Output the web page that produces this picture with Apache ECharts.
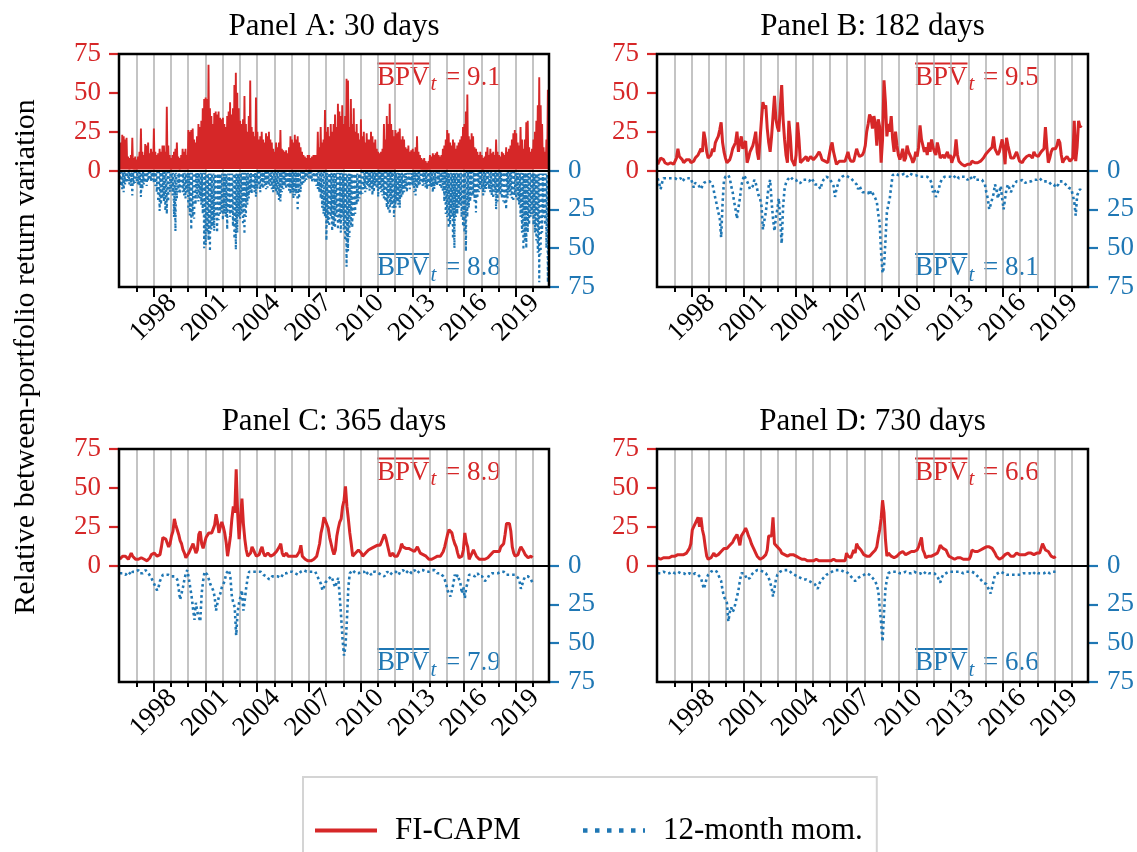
<!DOCTYPE html>
<html><head><meta charset="utf-8">
<script src="https://cdn.jsdelivr.net/npm/echarts@6/dist/echarts.min.js"></script>
<style>html,body{margin:0;padding:0;background:#fff}#c{width:1137px;height:852px}</style>
</head><body><div id="c"></div>
<script>
// ---------------- data ----------------
const START_YEAR = 1996;                 // first month of every series = Jan 1996
const PANEL_TITLES = ['Panel A: 30 days', 'Panel B: 182 days', 'Panel C: 365 days', 'Panel D: 730 days'];
const MEAN_FI  = ['9.1', '9.5', '8.9', '6.6'];
const MEAN_MOM = ['8.8', '8.1', '7.9', '6.6'];
const YEAR_TICKS  = [1997,1998,1999,2000,2001,2002,2003,2004,2005,2006,2007,2008,2009,2010,2011,2012,2013,2014,2015,2016,2017,2018,2019,2020];
const YEAR_LABELS = [1998, 2001, 2004, 2007, 2010, 2013, 2016, 2019];
const LEFT_TICKS  = [0, 25, 50, 75];
const RIGHT_TICKS = [0, -25, -50, -75];
const SERIES_NAMES = ['FI-CAPM', '12-month mom.'];

// Panel A (30 days): monthly peak values and yearly floor values (daily series is very spiky)
const fiA_peak = [
 [6,18,23,22,20,21,9,8,10,21,8,9],
 [7,9,12,27,12,10,17,16,18,11,14,12],
 [27,12,10,11,14,12,16,16,12,41,16,10],
 [8,10,12,14,18,9,8,10,14,12,14,10],
 [26,25,26,27,20,18,22,30,28,32,40,46],
 [47,46,68,40,35,30,37,38,36,38,34,33],
 [34,30,28,35,38,44,36,40,55,63,50,40],
 [32,30,33,48,30,25,35,58,28,25,22,47],
 [25,20,22,25,20,18,24,22,25,20,18,14],
 [12,18,15,18,26,14,13,12,13,11,15,22],
 [20,18,23,20,22,18,15,12,10,9,8,10],
 [10,8,9,10,10,10,25,15,28,18,20,39],
 [25,28,22,30,25,30,36,28,43,38,35,42],
 [30,35,59,58,28,46,30,40,25,30,24,20],
 [33,22,25,18,24,20,20,25,22,18,20,14],
 [12,11,12,14,30,20,35,30,43,30,26,22],
 [26,24,25,27,20,22,20,15,14,16,12,13],
 [14,12,15,22,12,10,8,7,8,6,5,6],
 [10,9,11,10,11,12,10,9,10,14,16,20],
 [26,24,18,16,20,18,14,16,18,20,22,28],
 [30,38,49,22,20,24,22,15,14,12,10,12],
 [10,8,9,12,15,10,14,11,12,10,20,12],
 [10,9,12,11,10,15,12,14,16,20,24,26],
 [24,18,16,28,20,14,20,31,32,15,12,14],
 [20,25,32,42,60,42,30,15,12,20,52]
];
const fiA_floor = [0.6,0.6,0.6,0.6,0.8,1,1,1,0.8,0.6,0.6,0.6,0.8,1,0.8,0.6,0.8,0.6,0.6,0.6,0.6,0.6,0.6,0.6,0.8];
const momA_peak = [
 [8,10,12,14,9,8,7,9,10,16,9,8],
 [7,9,10,17,12,9,8,10,7,6,7,6],
 [8,10,14,20,26,22,18,20,26,28,20,14],
 [12,16,30,39,18,14,15,12,14,16,18,14],
 [25,29,38,30,31,22,18,20,18,22,28,50],
 [48,40,45,52,38,36,39,30,40,32,28,27],
 [32,28,30,38,26,30,28,36,44,51,40,30],
 [31,28,35,41,30,22,18,14,15,12,14,17],
 [12,10,14,11,12,10,12,11,9,10,12,14],
 [12,14,16,19,20,14,12,10,12,11,13,15],
 [14,18,16,15,26,18,14,10,8,7,6,5],
 [5,6,7,6,8,10,12,14,18,24,28,30],
 [45,34,36,30,39,36,37,30,38,34,40,30],
 [38,45,62,52,43,36,37,30,28,22,20,18],
 [16,15,12,14,12,10,13,11,16,14,10,12],
 [17,12,14,16,18,20,24,26,28,22,24,30],
 [24,20,22,24,18,16,14,12,14,10,12,9],
 [10,14,16,12,10,9,8,10,9,11,12,10],
 [10,11,14,12,9,10,8,10,12,14,20,28],
 [30,37,35,30,44,50,30,28,24,22,30,36],
 [40,52,30,24,20,17,16,20,27,18,14,12],
 [12,16,14,12,10,12,14,16,18,14,25,20],
 [14,16,18,20,22,25,18,14,16,18,20,16],
 [18,20,22,30,40,51,45,50,40,35,30,28],
 [35,40,45,53,72,54,40,30,35,50,72]
];
const momA_floor = [1,1,1,1.5,1.5,2,2,1.5,1,1,1,1,1.5,2,1,1,1.5,1,1,1.5,1,1,1,1.5,2];

// Panel B (182 days): monthly values
const fiB = [
 [4,5,8,9,7,5,4,4,5,5,4,4],
 [5,8,14,9,9,7,5,6,7,8,7,5],
 [5,6,8,9,10,12,14,12,25,20,12,8],
 [7,10,14,12,18,20,22,26,31,18,12,8],
 [5,6,7,10,14,16,18,25,12,18,22,14],
 [17,19,5,8,12,14,16,20,25,12,7,20],
 [33,44,40,42,27,18,12,22,35,48,33,28],
 [25,40,55,33,20,10,5,32,22,7,5,3],
 [10,31,20,5,6,7,8,9,6,7,9,8],
 [7,8,9,10,12,10,7,6,6,5,5,6],
 [15,18,12,8,4,5,6,7,6,5,6,7],
 [12,8,6,5,6,10,14,11,9,8,10,12],
 [16,25,30,36,34,27,35,30,16,33,28,5],
 [20,58,44,22,30,25,35,20,12,25,16,10],
 [7,10,14,6,8,16,12,12,8,5,7,12],
 [9,15,29,20,16,12,15,10,18,12,20,15],
 [12,10,18,14,8,9,10,8,10,12,8,10],
 [5,8,10,20,10,6,5,4,4,3,3,4],
 [4,4,6,7,5,4,5,5,6,7,8,9],
 [11,12,13,14,15,22,14,12,10,12,16,20],
 [14,4,21,16,12,8,7,8,10,12,9,6],
 [6,5,7,8,9,8,10,9,8,12,10,11],
 [9,10,12,12,14,28,15,5,8,12,14,13],
 [14,16,20,18,10,5,7,7,9,8,6,5],
 [8,32,6,15,32,28,29]
];
const momB = [
 [5,6,12,8,5,4,5,6,5,4,5,6],
 [5,4,6,5,5,7,6,5,4,5,6,5],
 [6,11,8,7,9,10,12,10,8,7,7,6],
 [7,8,9,10,18,22,27,30,43,21,6,4],
 [3,3,5,10,14,20,25,31,24,18,10,6],
 [3,5,7,9,12,13,10,6,8,12,16,18],
 [23,38,32,27,18,10,6,20,31,39,30,25],
 [18,32,47,23,12,8,6,5,4,5,6,7],
 [6,8,7,8,7,6,7,6,5,7,6,5],
 [7,9,8,9,10,12,8,6,5,4,4,5],
 [6,8,10,17,12,9,6,5,4,4,3,4],
 [4,5,5,6,7,8,9,12,10,11,14,13],
 [14,15,14,16,13,14,16,18,20,28,34,53],
 [66,62,45,27,22,18,10,3,3,2,3,3],
 [2,3,3,2,3,4,3,2,3,3,2,3],
 [3,4,3,4,5,4,3,4,5,6,8,14],
 [12,17,15,12,8,6,5,4,4,4,3,4],
 [4,5,4,3,4,5,4,4,3,4,5,6],
 [5,4,6,5,4,6,7,6,5,6,7,9],
 [14,18,25,22,21,15,9,12,18,14,10,18],
 [25,18,12,9,10,14,12,9,8,7,6,7],
 [8,6,7,8,9,7,6,7,8,6,5,6],
 [6,5,6,7,6,7,8,7,8,9,8,9],
 [11,10,9,7,6,7,8,9,10,11,10,12],
 [12,20,29,16,14,12,14]
];

// Panel C (365 days): monthly values
const fiC = [
 [4,5,6,7,6,5,4,5,8,6,5,4],
 [4,4,5,5,5,4,3,3,4,5,7,6],
 [8,7,6,7,7,12,18,17,17,17,12,14],
 [19,22,30,26,23,20,16,14,10,8,5,6],
 [8,10,12,14,13,8,10,20,22,14,11,12],
 [18,19,21,20,21,22,26,33,28,21,25,28],
 [25,21,15,6,12,19,30,38,34,62,34,17],
 [30,43,27,17,10,6,5,8,12,10,8,6],
 [6,7,10,12,8,6,7,8,7,6,6,7],
 [8,9,10,12,14,8,6,7,8,6,5,6],
 [7,6,5,6,7,9,13,6,5,4,4,3],
 [3,3,3,4,5,6,10,14,21,25,31,29],
 [28,24,18,14,10,7,10,19,24,28,30,38],
 [42,51,38,30,21,14,6,7,8,9,10,11],
 [8,6,7,8,9,10,10,11,12,12,12,13],
 [14,13,15,16,20,18,14,10,6,7,8,6],
 [5,6,7,10,14,12,12,11,10,11,12,10],
 [11,9,10,12,11,8,8,7,6,6,5,4],
 [4,4,4,5,5,6,6,6,7,9,12,16],
 [20,23,22,21,17,14,12,8,5,5,6,10],
 [21,15,12,4,6,8,10,8,6,5,4,5],
 [4,4,4,5,5,6,7,8,9,8,9,8],
 [9,12,13,14,20,27,26,27,22,12,8,6],
 [6,7,10,12,13,9,7,6,5,5,6,5]
];
const momC = [
 [5,6,5,4,6,5,4,5,6,4,5,4],
 [4,3,5,4,5,4,3,4,5,6,8,10],
 [12,14,16,14,10,8,6,5,6,5,6,7],
 [7,8,7,8,9,15,22,18,14,9,5,3],
 [8,14,20,28,35,24,30,31,36,18,10,4],
 [3,6,9,12,14,16,20,29,24,20,18,14],
 [14,10,5,4,3,8,20,24,27,45,30,24],
 [20,16,29,22,14,8,4,3,4,5,4,3],
 [4,5,4,5,6,5,7,8,9,8,7,6],
 [7,8,7,6,8,7,5,4,5,6,4,5],
 [4,5,5,4,6,5,4,3,3,3,4,3],
 [4,3,4,5,4,6,8,9,12,16,14,11],
 [11,9,8,7,9,12,14,10,8,20,33,48],
 [58,52,35,14,5,4,3,4,5,6,5,4],
 [4,5,4,6,5,4,5,6,4,5,4,5],
 [5,4,6,5,7,6,4,5,6,5,4,5],
 [4,5,6,4,5,3,4,5,4,3,4,5],
 [4,3,4,5,4,3,4,3,4,4,3,4],
 [4,3,4,3,4,5,6,5,4,7,9,12],
 [16,18,20,16,12,6,8,6,9,12,18,14],
 [21,14,11,6,5,6,5,7,6,5,7,6],
 [7,8,10,11,8,6,6,5,4,5,4,5],
 [5,4,5,4,5,6,5,6,5,6,7,6],
 [7,8,10,15,12,9,7,8,7,8,9,11]
];

// Panel D (730 days): monthly values
const fiD = [
 [5,6,4,4,5,5,5,6,5,6,6,5],
 [6,7,7,6,7,7,7,7,8,8,11,14],
 [23,25,27,28,31,25,31,23,19,12,6,4],
 [4,5,6,8,6,5,7,8,9,10,11,10],
 [11,12,13,14,15,17,18,20,17,13,19,20],
 [22,24,22,19,17,14,12,10,8,6,5,4],
 [4,5,5,7,10,19,18,19,31,14,13,12],
 [12,10,8,8,7,6,6,7,7,6,7,6],
 [6,5,5,4,4,4,4,4,3,3,3,3],
 [3,4,4,4,3,4,3,3,3,3,3,3],
 [3,3,4,3,3,3,3,3,3,3,3,8],
 [6,6,5,6,10,8,14,12,12,10,9,7],
 [6,6,6,6,7,8,8,10,12,18,23,30],
 [42,34,17,6,8,7,6,5,5,5,6,7],
 [8,8,9,8,7,7,8,8,9,9,9,9],
 [10,12,15,18,10,8,5,5,6,6,6,6],
 [7,8,8,10,13,12,11,10,10,8,6,5],
 [5,4,4,4,5,5,5,4,4,4,4,4],
 [4,6,10,9,9,9,9,10,10,10,11,12],
 [12,13,12,13,11,11,8,6,5,4,5,5],
 [6,7,8,8,7,6,6,6,7,8,8,7],
 [7,7,6,7,8,8,8,8,7,7,8,8],
 [7,8,9,14,12,10,10,9,8,6,6,5],
 [6]
];
const momD = [
 [5,6,5,5,4,5,5,4,5,5,4,5],
 [5,5,4,5,5,4,5,5,6,5,5,6],
 [6,6,5,6,6,7,8,9,15,12,8,6],
 [5,4,3,3,3,4,6,7,10,16,20,22],
 [24,36,30,27,30,28,24,20,16,10,5,4],
 [5,6,9,8,8,6,5,4,4,3,3,3],
 [3,4,4,5,6,8,11,14,20,15,9,6],
 [5,4,4,3,3,3,3,3,4,5,5,6],
 [6,7,7,8,8,9,9,9,10,10,11,11],
 [11,12,13,15,12,10,9,8,7,6,5,5],
 [4,4,3,3,3,3,3,3,3,4,4,4],
 [5,6,7,8,8,10,9,8,8,7,7,6],
 [6,5,5,6,7,8,9,10,13,16,27,37],
 [49,30,15,9,5,4,4,4,4,5,4,4],
 [5,4,5,5,4,5,5,4,5,5,4,5],
 [5,4,5,5,6,5,4,5,5,6,5,5],
 [5,6,7,8,11,8,6,5,5,4,4,4],
 [4,4,4,4,4,4,4,4,5,4,4,4],
 [4,4,4,5,5,6,7,8,9,10,11,12],
 [12,14,16,18,14,10,6,5,5,4,4,5],
 [5,5,6,5,6,5,6,7,6,5,6,5],
 [6,5,5,6,5,6,5,5,6,5,4,5],
 [5,4,5,4,5,5,4,4,5,4,4,5],
 [4]
];

// ---------------- presentation ----------------
const RED = '#d62728', BLUE = '#1f77b4';
const FONT = '"Liberation Serif", "Times New Roman", serif';
const GRIDS = [
  {left: 119, top: 54,  width: 430, height: 233},
  {left: 657, top: 54,  width: 431, height: 233},
  {left: 119, top: 449, width: 430, height: 233},
  {left: 657, top: 449, width: 431, height: 233}
];
const X_MIN = 1996, X_MAX = 2020.92;

function monthly(rows, sign) {
  return rows.flat().map((v, i) => [START_YEAR + (i + 0.5) / 12, sign * v]);
}
function spiky(rows, floors, sign) {
  const out = [];
  rows.forEach((row, y) => row.forEach((v, k) => {
    const i = y * 12 + k;
    out.push([START_YEAR + (i + 0.25) / 12, sign * v]);
    out.push([START_YEAR + (i + 0.75) / 12, sign * floors[y]]);
  }));
  return out;
}
const panelData = [
  {fi: spiky(fiA_peak, fiA_floor, 1), mom: spiky(momA_peak, momA_floor, -1), fiW: 1.9, momW: 2.2, dash: [2.2, 3.2]},
  {fi: monthly(fiB, 1), mom: monthly(momB, -1), fiW: 3, momW: 2.6, dash: [2.6, 3.0]},
  {fi: monthly(fiC, 1), mom: monthly(momC, -1), fiW: 3, momW: 2.6, dash: [2.6, 3.0]},
  {fi: monthly(fiD, 1), mom: monthly(momD, -1), fiW: 3, momW: 2.6, dash: [2.6, 3.0]}
];

const mctx = document.createElement('canvas').getContext('2d');
function tw(text, font) { mctx.font = font; return mctx.measureText(text).width; }

const TICK_FS = 27;
const grid = [], xAxis = [], yAxis = [], series = [], graphic = [];
GRIDS.forEach((g, i) => {
  grid.push({left: g.left, top: g.top, width: g.width, height: g.height, show: true,
    borderColor: '#000', borderWidth: 2.5, backgroundColor: 'rgba(0,0,0,0)', z: 5,
    containLabel: false, outerBoundsMode: 'none'});
  xAxis.push({type: 'value', gridIndex: i, position: 'bottom', min: X_MIN, max: X_MAX, interval: 1,
    axisLine: {show: false, onZero: false},
    axisTick: {show: true, customValues: YEAR_TICKS, length: 5, lineStyle: {color: '#000', width: 2}},
    axisLabel: {show: false},
    splitLine: {show: true, lineStyle: {color: '#b0b0b0', width: 1.5}}});
  xAxis.push({type: 'value', gridIndex: i, position: 'bottom', min: X_MIN, max: X_MAX, interval: 1,
    axisLine: {show: false, onZero: false},
    axisTick: {show: true, customValues: YEAR_LABELS, length: 10, lineStyle: {color: '#000', width: 2}},
    axisLabel: {show: true, customValues: YEAR_LABELS, rotate: 45, align: 'center', verticalAlign: 'middle',
      margin: 31, fontSize: TICK_FS, fontFamily: FONT, color: '#000', formatter: v => String(Math.round(v))},
    splitLine: {show: false}});
  yAxis.push({type: 'value', gridIndex: i, position: 'left', min: -75, max: 75, interval: 25,
    axisLine: {show: false, onZero: false},
    axisTick: {show: true, customValues: LEFT_TICKS, length: 10, lineStyle: {color: RED, width: 2.2}},
    axisLabel: {customValues: LEFT_TICKS, color: RED, fontSize: TICK_FS, fontFamily: FONT, margin: 18},
    splitLine: {show: false}});
  yAxis.push({type: 'value', gridIndex: i, position: 'right', min: -75, max: 75, interval: 25,
    axisLine: {show: false, onZero: false},
    axisTick: {show: true, customValues: RIGHT_TICKS, length: 10, lineStyle: {color: BLUE, width: 2.2}},
    axisLabel: {customValues: RIGHT_TICKS, formatter: v => String(Math.abs(v)), color: BLUE, fontSize: TICK_FS,
      fontFamily: FONT, margin: 19},
    splitLine: {show: false}});
  const d = panelData[i];
  series.push({type: 'line', name: SERIES_NAMES[0], xAxisIndex: 2 * i, yAxisIndex: 2 * i, data: d.fi,
    symbol: 'none', showSymbol: false, silent: true, z: 2,
    lineStyle: {color: RED, width: d.fiW}, itemStyle: {color: RED}});
  series.push({type: 'line', name: SERIES_NAMES[1], xAxisIndex: 2 * i, yAxisIndex: 2 * i, data: d.mom,
    symbol: 'none', showSymbol: false, silent: true, z: 2,
    lineStyle: {color: BLUE, width: d.momW, type: d.dash}, itemStyle: {color: BLUE},
    markLine: {silent: true, symbol: ['none', 'none'], label: {show: false},
      lineStyle: {color: '#000', width: 2.2, type: 'solid'}, data: [{yAxis: 0}]}});

  // panel title
  graphic.push({type: 'text', silent: true, x: g.left + g.width / 2, y: g.top - 27,
    style: {text: PANEL_TITLES[i], font: `31px ${FONT}`, fill: '#000', align: 'center', verticalAlign: 'middle'}});
  // mean annotations
  [[MEAN_FI[i], RED, g.top + 23.5], [MEAN_MOM[i], BLUE, g.top + 214]].forEach(([val, col, cy]) => {
    const fMain = `27px ${FONT}`, fSub = `italic 21px ${FONT}`;
    const x0 = g.left + 258;
    const wB = tw('BPV', fMain), wt = tw('t', fSub);
    graphic.push({type: 'text', silent: true, x: x0, y: cy,
      style: {text: 'BPV', font: fMain, fill: col, align: 'left', verticalAlign: 'middle'}});
    graphic.push({type: 'text', silent: true, x: x0 + wB + 1, y: cy + 7,
      style: {text: 't', font: fSub, fill: col, align: 'left', verticalAlign: 'middle'}});
    graphic.push({type: 'text', silent: true, x: x0 + wB + wt + 3, y: cy,
      style: {text: ' = ' + val, font: fMain, fill: col, align: 'left', verticalAlign: 'middle'}});
    graphic.push({type: 'line', silent: true, shape: {x1: x0, y1: cy - 14, x2: x0 + wB, y2: cy - 14},
      style: {stroke: col, lineWidth: 1.8}});
  });
});
graphic.push({type: 'text', silent: true, x: 26, y: 357, rotation: Math.PI / 2,
  style: {text: 'Relative between-portfolio return variation', font: `30px ${FONT}`, fill: '#000',
    align: 'center', verticalAlign: 'middle'}});

const chart = echarts.init(document.getElementById('c'), null, {renderer: 'canvas'});
chart.setOption({
  animation: false,
  backgroundColor: '#fff',
  grid, xAxis, yAxis, series, graphic,
  legend: {
    show: true, selectedMode: false, left: 303, top: 777, orient: 'horizontal',
    data: [
      {name: SERIES_NAMES[0], lineStyle: {width: 4, type: 'solid', color: RED}},
      {name: SERIES_NAMES[1], lineStyle: {width: 4.5, type: [4.5, 7.5], color: BLUE}}
    ],
    itemWidth: 62, itemHeight: 20, itemGap: 60,
    padding: [38, 14, 40, 10],
    borderColor: '#d4d4d4', borderWidth: 2, borderRadius: 0,
    itemStyle: {opacity: 0},
    textStyle: {fontFamily: FONT, fontSize: 31, color: '#000', padding: [0, 0, 0, 13]}
  }
});
</script>
</body></html>
